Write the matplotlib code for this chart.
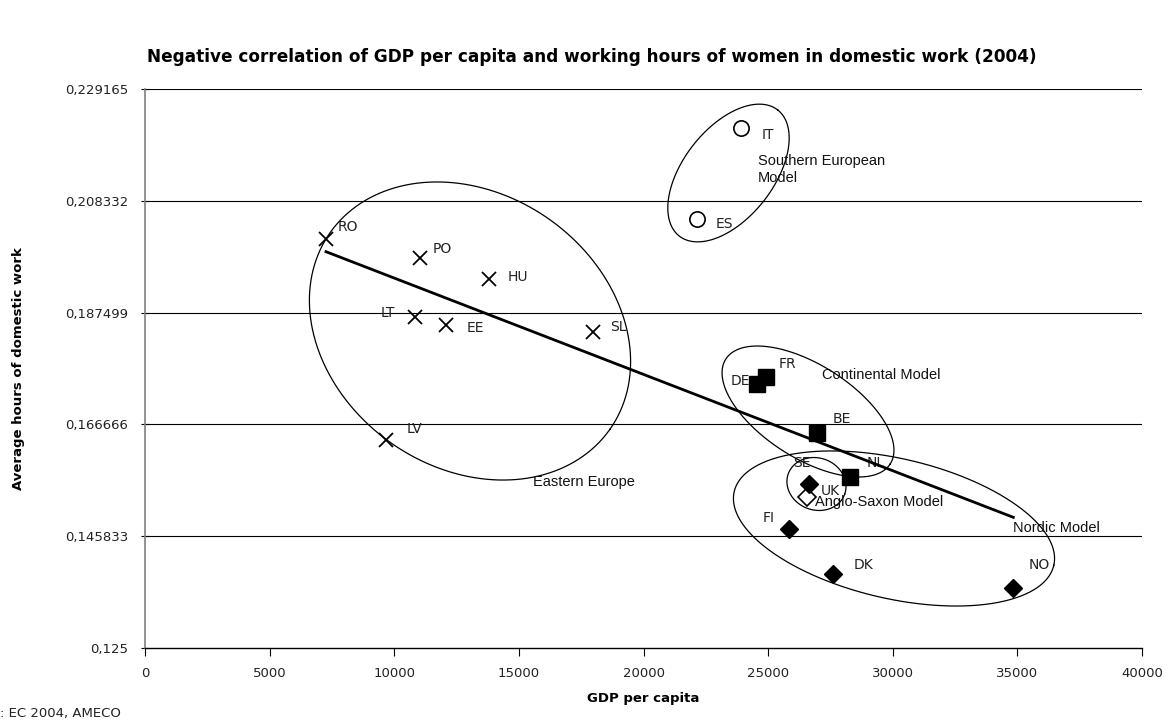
import numpy as np
import matplotlib
matplotlib.use("Agg")
import matplotlib.pyplot as plt

# ---------------- data ----------------
east_names = ["RO", "PO", "HU", "LT", "EE", "SL", "LV"]
east_gdp = [7262, 11033, 13801, 10832, 12076, 17974, 9669]
east_hours = [0.20121, 0.19767, 0.19376, 0.18668, 0.18519, 0.18388, 0.16376]

south_names = ["IT", "ES"]
south_gdp = [23912, 22146]
south_hours = [0.22184, 0.20494]

cont_names = ["FR", "DE", "BE", "NL"]
cont_gdp = [24903, 24541, 26973, 28285]
cont_hours = [0.17544, 0.17414, 0.16512, 0.15681]

nordic_names = ["SE", "FI", "DK", "NO"]
nordic_gdp = [26640, 25850, 27615, 34837]
nordic_hours = [0.15556, 0.14717, 0.13879, 0.13612]

uk_names = ["UK"]
uk_gdp = [26572]
uk_hours = [0.15320]

trend_gdp = [7262, 34837]
trend_hours = [0.19885, 0.14935]

y_ticks = [0.125, 0.145833, 0.166666, 0.187499, 0.208332, 0.229165]
y_tick_labels = ["0,125", "0,145833", "0,166666", "0,187499", "0,208332", "0,229165"]
x_ticks = [0, 5000, 10000, 15000, 20000, 25000, 30000, 35000, 40000]

groups = ["Southern European\nModel", "Continental Model", "Eastern Europe",
          "Anglo-Saxon Model", "Nordic Model"]
group_x = [24594, 27162, 15567, 26881, 34824]
group_y = [0.21705, 0.17587, 0.15593, 0.15221, 0.14736]

# ---------------- figure ----------------
W, H = 1168, 720
fig = plt.figure(figsize=(W / 100, H / 100), dpi=100)
ax = fig.add_axes([145 / W, 1 - 648 / H, (1142 - 145) / W, (648 - 89) / H])
ax.set_xlim(0, 40000)
ax.set_ylim(0.125, 0.229165)

tick_font = "DejaVu Sans"
ax.set_yticks(y_ticks)
ax.set_yticklabels(y_tick_labels, fontsize=9.5, family=tick_font, color="#222222")
ax.set_xticks(x_ticks)
ax.set_xticklabels([str(v) for v in x_ticks], fontsize=9.5, family=tick_font, color="#222222")
ax.tick_params(axis="y", direction="inout", length=6, width=0.8, pad=9)
ax.tick_params(axis="x", direction="out", length=6, width=0.8, pad=8)
for y in y_ticks[1:]:
    ax.axhline(y, color="black", lw=0.8, zorder=1)
for s in ["top", "right"]:
    ax.spines[s].set_visible(False)
ax.spines["left"].set_color("#808080")
ax.spines["left"].set_linewidth(1.2)
ax.spines["bottom"].set_color("black")
ax.spines["bottom"].set_linewidth(1.0)

# ---------------- markers ----------------
ax.plot(east_gdp, east_hours, ls="none", marker="x", ms=10, mew=1.3, color="black", zorder=5)
ax.plot(south_gdp, south_hours, ls="none", marker="o", ms=11, mew=1.2,
        mfc="white", mec="black", zorder=5)
ax.plot(cont_gdp, cont_hours, ls="none", marker="s", ms=12, color="black", zorder=5)
ax.plot(nordic_gdp, nordic_hours, ls="none", marker="D", ms=9, color="black", zorder=5)
ax.plot(uk_gdp, uk_hours, ls="none", marker="D", ms=9, mew=1.2,
        mfc="white", mec="black", zorder=4)

ax.plot(trend_gdp, trend_hours, color="black", lw=2.0, zorder=6)

# ---------------- point labels ----------------
all_names = east_names + south_names + cont_names + nordic_names + uk_names
all_x = east_gdp + south_gdp + cont_gdp + nordic_gdp + uk_gdp
all_y = east_hours + south_hours + cont_hours + nordic_hours + uk_hours
offsets = {
    "RO": (12, 12, "left"), "PO": (13, 9, "left"), "HU": (19, 2, "left"),
    "LT": (-20, 4, "right"), "EE": (21, -3, "left"), "SL": (17, 5, "left"),
    "LV": (21, 11, "left"), "IT": (21, -7, "left"), "ES": (19, -5, "left"),
    "FR": (13, 13, "left"), "DE": (-26, 3, "left"), "BE": (15, 14, "left"),
    "NL": (17, 14, "left"), "SE": (-16, 21, "left"), "UK": (13, 6, "left"),
    "FI": (-27, 11, "left"), "DK": (20, 9, "left"), "NO": (15, 23, "left"),
}
for n, x, y in zip(all_names, all_x, all_y):
    dx, dy, ha = offsets[n]
    ax.annotate(n, (x, y), xytext=(dx, dy), textcoords="offset pixels",
                ha=ha, va="center", fontsize=10, family=tick_font,
                color="#222222", zorder=3)

# ---------------- group labels ----------------
for g, x, y in zip(groups, group_x, group_y):
    va = "top" if "\n" in g else "center"
    ax.text(x, y, g, ha="left", va=va, fontsize=10.5, family="Liberation Sans",
            color="#111111", linespacing=1.3, zorder=7)

# ---------------- ellipses (pixel-shaped annotations) ----------------
ellipses = [
    # centre (data), semi-axes (px), angle (deg, display)
    (13039, 0.18407, 171, 137, -35),
    (23410, 0.21351, 80, 45, 52),
    (26600, 0.16907, 97.5, 46.6, -32.5),
    (26940, 0.15556, 30, 26, -20),
    (30050, 0.14727, 164, 70, -13),
]
t = np.linspace(0, 2 * np.pi, 500)
for cx, cy, a, b, ang in ellipses:
    cxp, cyp = ax.transData.transform((cx, cy))
    th = np.deg2rad(ang)
    px = cxp + a * np.cos(t) * np.cos(th) - b * np.sin(t) * np.sin(th)
    py = cyp + a * np.cos(t) * np.sin(th) + b * np.sin(t) * np.cos(th)
    d = ax.transData.inverted().transform(np.column_stack([px, py]))
    ax.plot(d[:, 0], d[:, 1], color="black", lw=0.9, zorder=4, clip_on=False)

# ---------------- titles ----------------
fig.text(592 / W, 1 - 57 / H,
         "Negative correlation of GDP per capita and working hours of women in domestic work (2004)",
         ha="center", va="center", fontsize=12.2, fontweight="bold", family=tick_font)
ax.set_xlabel("GDP per capita", fontsize=9.5, fontweight="bold", family=tick_font)
ax.xaxis.set_label_coords(0.5, -(692 - 648) / (648 - 89))
ax.set_ylabel("Average hours of domestic work", fontsize=9.5, fontweight="bold",
              family=tick_font)
ax.yaxis.set_label_coords(-(145 - 25) / (1142 - 145), 0.5)
fig.text(0.0, 1 - 714 / H, ": EC 2004, AMECO", ha="left", va="center",
         fontsize=9.5, family=tick_font, color="#222222")

fig.savefig("out.png", dpi=100)
